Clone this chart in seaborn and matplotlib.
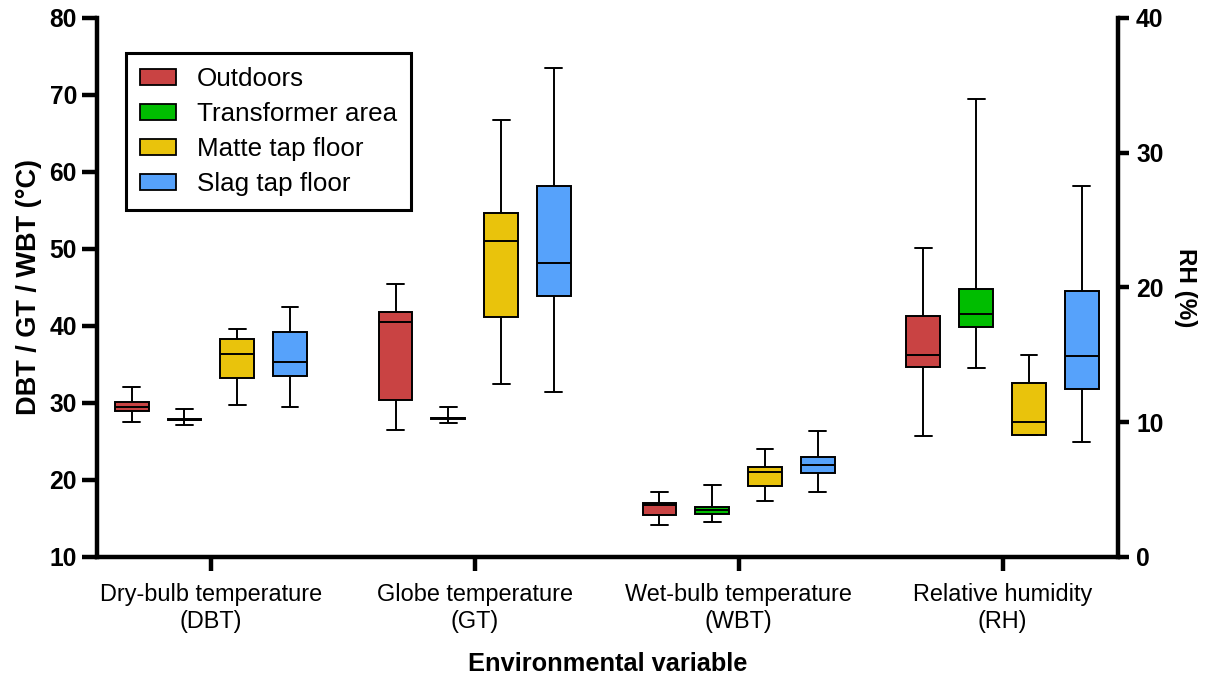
import matplotlib
matplotlib.use("Agg")
import matplotlib.pyplot as plt
from matplotlib.patches import Patch
from matplotlib.ticker import FixedLocator
import pandas as pd
import seaborn as sns

# Categories and groups
variables = ["Dry-bulb temperature\n(DBT)", "Globe temperature\n(GT)",
             "Wet-bulb temperature\n(WBT)", "Relative humidity\n(RH)"]
locations = ["Outdoors", "Transformer area", "Matte tap floor", "Slag tap floor"]
colors = ["#C94343", "#00BD00", "#E9C30C", "#56A2FB"]

# Five-number summaries per location: min, Q1, median, Q3, max
dbt = [[27.5, 29.0, 29.5, 30.1, 32.1],
       [27.2, 27.75, 27.85, 27.95, 29.2],
       [29.8, 33.3, 36.4, 38.3, 39.6],
       [29.5, 33.5, 35.3, 39.2, 42.4]]
gt = [[26.5, 30.4, 40.5, 41.8, 45.5],
      [27.4, 27.9, 28.0, 28.1, 29.5],
      [32.5, 41.1, 51.0, 54.7, 66.8],
      [31.4, 43.9, 48.2, 58.2, 73.5]]
wbt = [[14.2, 15.5, 16.7, 17.0, 18.5],
       [14.6, 15.6, 16.1, 16.45, 19.4],
       [17.3, 19.2, 21.0, 21.7, 24.0],
       [18.5, 20.9, 21.95, 22.95, 26.3]]
rh = [[9.0, 14.1, 15.0, 17.9, 22.95],
      [14.0, 17.05, 18.0, 19.9, 34.0],
      [9.05, 9.05, 10.05, 12.9, 15.0],
      [8.5, 12.45, 14.9, 19.7, 27.5]]

rows = []
for var, summary in zip(variables, [dbt, gt, wbt, rh]):
    for loc, vals in zip(locations, summary):
        for v in vals:
            rows.append({"variable": var, "location": loc, "value": v})
df = pd.DataFrame(rows)
temp_df = df[df["variable"] != variables[3]]
rh_df = df[df["variable"] == variables[3]]

sns.set_style("ticks")
plt.rcParams["font.family"] = ["Liberation Sans", "DejaVu Sans"]
for key in ["text.color", "axes.labelcolor", "xtick.color", "ytick.color",
            "axes.edgecolor"]:
    plt.rcParams[key] = "black"

fig = plt.figure(figsize=(12.13, 6.77), dpi=100)
ax = fig.add_axes([0.0800, 0.1773, 0.8417, 0.7962])
ax2 = ax.twinx()

box_kw = dict(x="variable", y="value", hue="location", order=variables,
              hue_order=locations, palette=colors, whis=(0, 100), width=0.8,
              gap=0.36, linecolor="black", linewidth=1.4, saturation=1,
              legend=False)
sns.boxplot(data=temp_df, ax=ax, **box_kw)
sns.boxplot(data=rh_df, ax=ax2, **box_kw)

ax.set_xlim(-0.431, 3.4375)
ax.set_ylim(10, 80)
ax2.set_ylim(0, 40)

ax.set_xticks(range(len(variables)))
ax.set_xticklabels(variables)
ax.set_yticks(range(10, 81, 10))
ax2.set_yticks(range(0, 41, 10))

spine_lw = 3.2
for s in ["top", "right"]:
    ax.spines[s].set_visible(False)
for s in ["top", "left", "bottom"]:
    ax2.spines[s].set_visible(False)
ax.spines["left"].set_linewidth(spine_lw)
ax.spines["bottom"].set_linewidth(spine_lw)
ax2.spines["right"].set_linewidth(spine_lw)

ax.tick_params(axis="y", width=spine_lw, length=11, labelsize=17.7, pad=3.5)
ax2.tick_params(axis="y", width=spine_lw, length=8, labelsize=17.7, pad=5)
ax.tick_params(axis="x", width=spine_lw, length=10, labelsize=16.9, pad=9)
plt.setp(ax.get_yticklabels(), fontweight="bold")
plt.setp(ax2.get_yticklabels(), fontweight="bold")

# Inward end caps at the top of both value axes
ax.yaxis.set_minor_locator(FixedLocator([80]))
ax.tick_params(axis="y", which="minor", direction="in", length=10,
               width=spine_lw)
ax2.yaxis.set_minor_locator(FixedLocator([40]))
ax2.tick_params(axis="y", which="minor", direction="in", length=7,
                width=spine_lw)
ax.xaxis.set_minor_locator(FixedLocator([]))

ax.set_xlabel("Environmental variable", fontsize=18.3, fontweight="bold")
ax.xaxis.set_label_coords(0.5, -0.176)
ax.set_ylabel("DBT / GT / WBT (°C)", fontsize=19.5, fontweight="bold",
              va="center")
ax.yaxis.set_label_coords(-0.067, 0.5)
ax2.set_ylabel("RH (%)", fontsize=17.5, fontweight="bold", rotation=270,
               va="center")
ax2.yaxis.set_label_coords(1.066, 0.5)

handles = [Patch(facecolor=c, edgecolor="black", linewidth=1.3, label=l)
           for c, l in zip(colors, locations)]
leg = ax.legend(handles=handles, loc="upper left",
                bbox_to_anchor=(0.0284, 0.935), borderaxespad=0,
                fontsize=18.7, frameon=True, fancybox=False,
                edgecolor="black", framealpha=1, handlelength=1.38,
                handleheight=0.54, handletextpad=0.8, labelspacing=0.42,
                borderpad=0.55)
leg.get_frame().set_linewidth(2.2)

fig.savefig("out.png", dpi=100)
